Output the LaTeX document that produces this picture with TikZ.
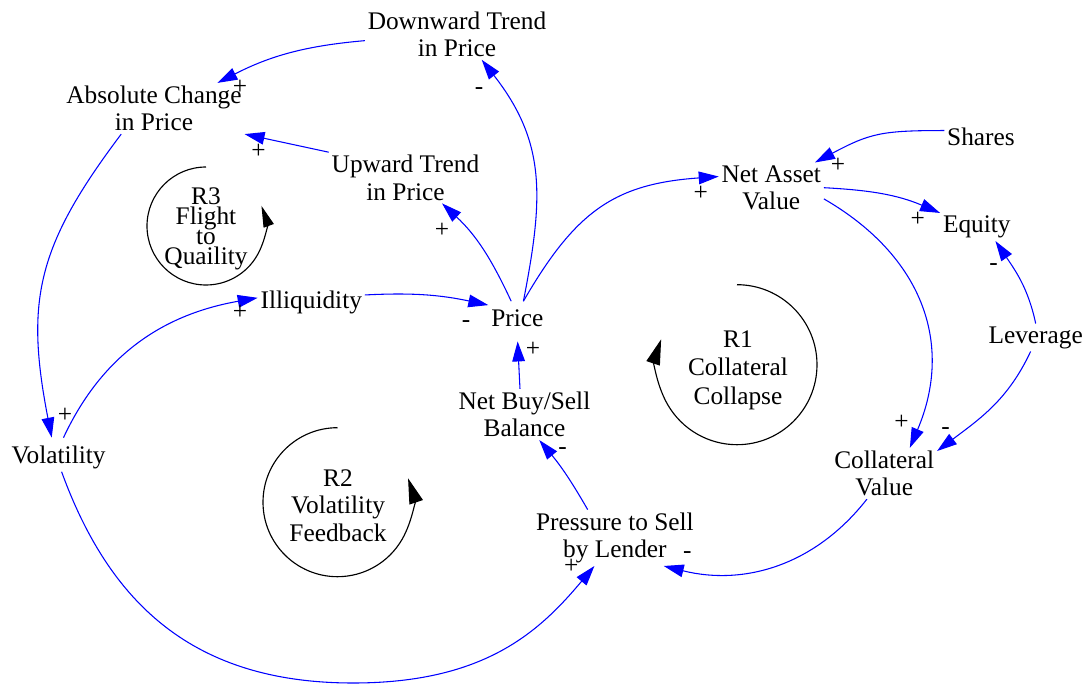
\documentclass[tikz,border=0pt]{standalone}
\usepackage{fontspec}
\setmainfont{Liberation Serif}
\usetikzlibrary{arrows.meta}
\definecolor{linkblue}{RGB}{0,0,255}
\lineskiplimit=-20pt\relax
\begin{document}
\begin{tikzpicture}[x=0.75pt,y=0.75pt,
  var/.style={align=center,inner sep=2pt,font=\fontsize{19}{20.6}\selectfont},
  sign/.style={inner sep=0pt,font=\fontsize{19}{20.6}\selectfont},
  link/.style={draw=linkblue,line width=0.8pt,-{Triangle[length=15pt,width=9.5pt]}},
  loopline/.style={draw=black,line width=0.85pt,-{Triangle[length=19pt,width=10.5pt]}},
  smallloop/.style={draw=black,line width=0.85pt,-{Triangle[length=16pt,width=8pt]}},
  looptext/.style={align=center,inner sep=0pt,font=\fontsize{19}{21.4}\selectfont}]
\useasboundingbox (0,0) rectangle (1083,-685);

% variables
\node[var] (dt) at (457,-34.2) {Downward Trend\\in Price};
\node[var] (ac) at (154,-108.5) {Absolute Change\\in Price};
\node[var] (ut) at (405.5,-177.8) {Upward Trend\\in Price};
\node[var] (nav) at (771.3,-187.7) {Net Asset\\Value};
\node[var] (shares) at (981,-137) {Shares};
\node[var] (equity) at (976.8,-227) {Equity};
\node[var] (lev) at (1035.7,-337.5) {Leverage};
\node[var,inner ysep=6pt] (price) at (517.3,-318) {Price};
\node[var] (illiq) at (311.3,-302.5) {Illiquidity};
\node[var] (nbs) at (524.5,-414.5) {Net Buy/Sell\\Balance};
\node[var] (pts) at (614.9,-537.8) {Pressure to Sell\\by Lender};
\node[var] (cv) at (884.2,-473.5) {Collateral\\Value};
\node[var,inner ysep=6pt,text depth=0pt] (vol) at (58.6,-454.7) {Volatility};

% loops
\coordinate (r1c) at (737,-364.7);
\coordinate (r2c) at (337.5,-502.2);
\coordinate (r3c) at (206,-226);
\draw[loopline] (r1c) ++(90:80) arc[start angle=90,end angle=-198.5,radius=80];
\draw[loopline] (r2c) ++(90:74.5) arc[start angle=90,end angle=378.7,radius=74.5];
\draw[smallloop] (r3c) ++(90:59) arc[start angle=90,end angle=380,radius=59];
\node[looptext] (r1) at (738,-370.3) {R1\\Collateral\\Collapse};
\node[looptext,font=\fontsize{19}{20.6}\selectfont] (r2) at (338,-505.5) {R2\\Volatility\\Feedback};
\node[looptext,font=\fontsize{19}{14.85}\selectfont] (r3) at (206,-229) {R3\\Flight\\to\\Quaility};

% links
\coordinate (vbot) at (353,-683);
\draw[link] (dt.184) to[out=185,in=27] (ac.22);
\draw[link] (price.70) to[out=79,in=-52,looseness=1.1] (dt.-46);
\draw[link] (ut.north west) -- (ac.south east);
\draw[link] (price.110) to[out=115,in=-43] (ut.-35);
\draw[link] (price.70) to[out=60,in=-176,looseness=1.15] (nav.168);
\draw[link] (shares.170) to[out=180,in=28,looseness=1.2] (nav.30);
\draw[link] (nav.east) to[out=-3,in=157] (equity.north west);
\draw[link] (nav.-12) to[out=-30,in=67,looseness=1.1] (cv.45);
\draw[link] (lev.north) to[out=102,in=-56] (equity.-37);
\draw[link] (lev.-110) to[out=-115,in=37] (cv.23);
\draw[link] (cv.-124) to[out=-128,in=-14] (pts.-30);
\draw[link] (pts.134) to[bend right=5] (nbs.-60);
\draw[link,shorten >=5pt] (nbs.100) -- (price.south);
\draw[link] (illiq.8) to[out=3,in=168] (price.156);
\draw[link] (vol.74) to[out=65,in=-170] (illiq.175);
\draw[link] (ac.-142) to[out=-127,in=101,looseness=1.15] (vol.112);
\draw[link] (vol.-80) to[out=-70,in=180,out distance=105pt,in distance=120pt] (vbot)
  to[out=0,in=-130,out distance=99pt,in distance=64pt] (pts.-126);

% polarity signs
\node[sign] (s1) at (240,-87) {+};
\node[sign] (s2) at (479,-91.5) {-};
\node[sign] (s3) at (258.5,-151) {+};
\node[sign] (s4) at (442,-230) {+};
\node[sign] (s5) at (700.8,-193.3) {+};
\node[sign] (s6) at (838,-165.7) {+};
\node[sign] (s7) at (917.7,-219) {+};
\node[sign] (s8) at (901.4,-422.3) {+};
\node[sign] (s9) at (993.6,-267.5) {-};
\node[sign] (s10) at (945.5,-431.5) {-};
\node[sign] (s11) at (687.4,-555.2) {-};
\node[sign] (s12) at (562.7,-451.5) {-};
\node[sign] (s13) at (533,-349) {+};
\node[sign] (s14) at (466,-324.5) {-};
\node[sign] (s15) at (240,-312) {+};
\node[sign] (s16) at (65,-415) {+};
\node[sign] (s17) at (571.3,-566.7) {+};
\end{tikzpicture}
\end{document}
